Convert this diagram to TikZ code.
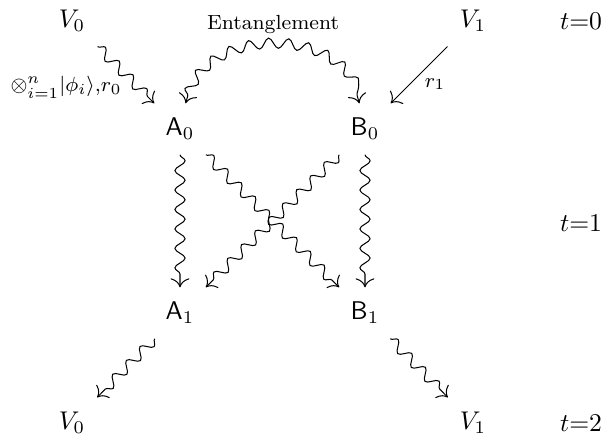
\documentclass[tikz,border=0pt]{standalone}
\usetikzlibrary{decorations.pathmorphing,arrows.meta}
\begin{document}
\begin{tikzpicture}[x=0.390625pt,y=-0.390625pt,
  >={To[scale=1.4]},
  obj/.style={inner sep=3.33pt, outer sep=2.5pt},
  squig/.style={decorate, decoration={snake, amplitude=2pt, segment length=7.6pt, post length=3pt}},
  squigg/.style={decorate, decoration={snake, amplitude=2pt, segment length=7.6pt, pre length=3pt, post length=3pt}},
  lab/.style={font=\footnotesize, inner sep=0pt}]
\useasboundingbox (0,0) rectangle (603,437);
% top row
\node[obj] (V0t) at (72,21) {$V_0$};
\node[obj] (V1t) at (473,21) {$V_1$};
\node[obj] (t0) at (581,21) {$t{=}0$};
% middle
\node[obj] (A0) at (180,129) {$\mathsf{A}_0$};
\node[obj] (B0) at (365,129) {$\mathsf{B}_0$};
\node[obj] (t1) at (581,223) {$t{=}1$};
\node[obj] (A1) at (180,313) {$\mathsf{A}_1$};
\node[obj] (B1) at (365,313) {$\mathsf{B}_1$};
% bottom row
\node[obj] (V0b) at (72,423) {$V_0$};
\node[obj] (V1b) at (473,423) {$V_1$};
\node[obj] (t2) at (581,423) {$t{=}2$};
% labels
\node[lab] (lphi) at (66,87) {$\otimes_{i=1}^n|\phi_i\rangle{,}r_0$};
\node[lab] (lr1) at (435,84) {$r_1$};
\node[lab] (lent) at (273,24) {Entanglement};
% connectors
\draw[->,squig] (V0t) -- (A0);
\draw[->] (V1t) -- (B0);
\draw[<->,squigg] (A0) .. controls (202,29) and (343,29) .. (B0);
\draw[->,squig] (A0) -- (A1);
\draw[->,squig] (B0) -- (B1);
\draw[->,squig] (A0) -- (B1);
\draw[->,squig] (B0) -- (A1);
\draw[->,squig] (A1) -- (V0b);
\draw[->,squig] (B1) -- (V1b);
\end{tikzpicture}
\end{document}
